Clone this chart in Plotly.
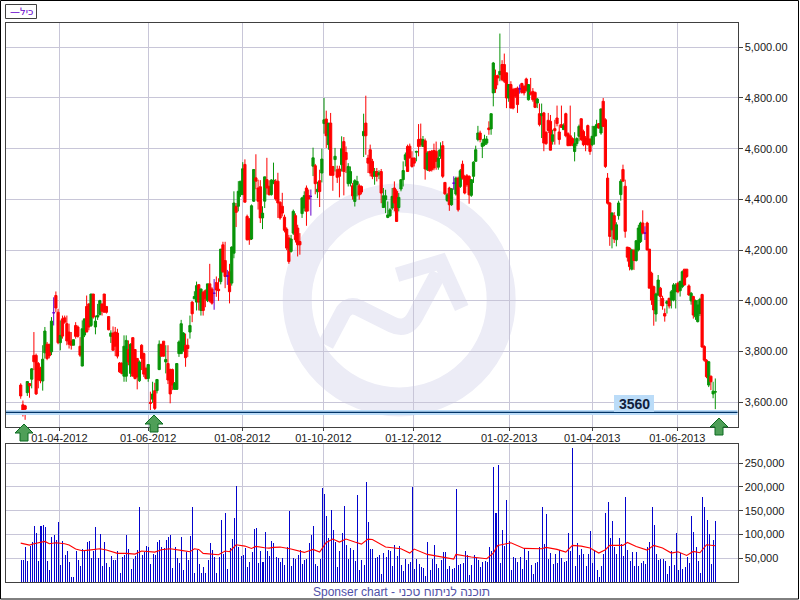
import plotly.graph_objects as go

price_open = [
3668,3590,3586,3638,3674,3691,3785,3785,3753,3733,
3684,3795,3829,3829,3799,3953,4021,3955,3835,3929,
3933,3910,3877,3842,3825,3903,3897,3821,3743,3865,
3978,3988,3903,4027,3897,3936,3946,3988,4027,3978,
3938,3860,3873,3877,3873,3755,3753,3703,3703,3808,
3714,3855,3808,3773,3685,3825,3792,3733,3694,3600,
3612,3646,3646,3729,3829,3841,3759,3753,3729,3729,
3651,3651,3792,3792,3805,3825,3825,3877,3995,4008,
3995,4064,3962,4034,4040,4001,4067,4047,4030,4072,
4046,4076,4221,4159,4098,4115,4070,4188,4373,4373,
4419,4419,4538,4333,4323,4244,4393,4485,4445,4450,
4327,4393,4478,4452,4419,4465,4472,4472,4389,4373,
4330,4283,4248,4195,4267,4336,4287,4234,4344,4366,
4445,4415,4412,4531,4533,4430,4474,4504,4699,4717,
4616,4701,4530,4557,4517,4520,4537,4628,4585,4462,
4464,4454,4392,4458,4454,4451,4651,4701,4563,4596,
4550,4491,4510,4497,4510,4368,4399,4329,4335,4366,
4445,4432,4368,4441,4478,4557,4609,4610,4563,4563,
4586,4636,4638,4609,4631,4517,4589,4590,4593,4590,
4527,4570,4612,4467,4396,4445,4379,4464,4421,4484,
4451,4539,4491,4493,4491,4416,4491,4550,4636,4662,
4609,4616,4622,4682,4678,4820,4888,4888,4892,4932,
4932,4899,4800,4853,4833,4836,4839,4836,4857,4846,
4875,4793,4822,4826,4822,4780,4738,4730,4741,4664,
4712,4708,4629,4679,4721,4666,4695,4675,4738,4659,
4651,4640,4589,4620,4649,4718,4668,4642,4691,4638,
4616,4649,4682,4699,4662,4787,4714,4484,4386,4280,
4336,4241,4336,4419,4518,4452,4212,4208,4125,4199,
4159,4201,4234,4307,4267,4307,4204,4109,4056,3948,
4023,4050,4010,3950,3990,4010,4003,4003,4036,4069,4040,
4056,4125,4125,4059,4000,4017,3937,3918,3950,4025,
3820,3766,3668,3703,3633,3640]
price_high = [
3675,3607,3590,3682,3676,3735,3877,3792,3759,3740,
3825,3897,3838,3829,3936,4014,4037,3969,3923,3942,
3942,3942,3910,3877,3847,3916,3903,3857,3923,3929,
4021,3990,4027,4027,3942,3988,4004,3988,4027,3978,
3938,3884,3899,3897,3890,3759,3759,3864,3864,3844,
3833,3855,3810,3773,3765,3829,3796,3740,3749,3642,
3681,3677,3690,3844,3829,3841,3825,3825,3733,3733,
3680,3755,3844,3925,3877,3871,3851,3942,3999,4038,
4076,4064,4047,4040,4045,4067,4146,4054,4086,4096,
4089,4204,4233,4233,4122,4146,4215,4432,4386,4472,
4472,4547,4558,4340,4327,4380,4518,4578,4478,4476,
4373,4489,4564,4475,4480,4545,4480,4505,4392,4426,
4340,4290,4260,4260,4360,4345,4300,4267,4410,4432,
4455,4439,4439,4604,4540,4470,4517,4600,4800,4750,
4701,4741,4530,4603,4533,4533,4649,4646,4609,4543,
4530,4465,4480,4493,4462,4455,4738,4809,4576,4616,
4560,4524,4524,4515,4520,4445,4438,4392,4366,4445,
4471,4440,4425,4478,4550,4585,4616,4620,4590,4565,
4592,4697,4699,4650,4640,4590,4592,4595,4620,4628,
4596,4625,4630,4467,4425,4450,4445,4491,4490,4490,
4520,4553,4497,4500,4495,4480,4550,4612,4690,4671,
4638,4655,4650,4708,4738,4942,4912,4892,5054,4949,
4975,4900,4855,4866,4840,4840,4845,4853,4860,4850,
4880,4855,4879,4839,4825,4800,4778,4778,4745,4670,
4741,4733,4675,4714,4770,4695,4770,4700,4742,4665,
4770,4645,4665,4645,4695,4720,4675,4650,4695,4640,
4690,4690,4714,4700,4757,4800,4720,4504,4390,4350,
4350,4310,4395,4480,4537,4478,4212,4212,4205,4205,
4240,4300,4312,4357,4294,4312,4204,4115,4060,4032,
4102,4055,4020,3970,4003,4012,4043,4070,4070,4075,4080,
4120,4125,4125,4065,4035,4020,4005,4004,4012,4028,
3825,3770,3762,3705,3681,3694]
price_low = [
3614,3544,3531,3625,3618,3655,3727,3629,3655,3675,
3646,3772,3766,3773,3786,3903,3955,3829,3805,3851,
3910,3825,3812,3808,3825,3851,3855,3779,3742,3857,
3877,3884,3897,3930,3868,3925,3942,3942,3955,3950,
3884,3834,3805,3782,3773,3716,3710,3681,3681,3746,
3700,3703,3690,3651,3680,3727,3700,3690,3681,3563,
3598,3563,3635,3727,3780,3780,3714,3672,3596,3648,
3649,3651,3779,3792,3799,3740,3779,3851,3916,4007,
3962,3962,3942,3942,3975,3995,3994,3985,3965,4016,
4000,4065,4110,4050,4063,3990,4060,4168,4291,4353,
4410,4419,4389,4238,4221,4240,4390,4440,4360,4307,
4283,4366,4419,4415,4415,4460,4395,4327,4320,4333,
4270,4200,4146,4190,4260,4230,4175,4182,4327,4353,
4296,4353,4336,4492,4420,4405,4370,4467,4659,4603,
4596,4495,4434,4510,4465,4408,4510,4416,4504,4451,
4451,4399,4372,4412,4399,4420,4567,4576,4504,4491,
4480,4458,4471,4480,4385,4366,4346,4326,4333,4359,
4353,4313,4353,4432,4451,4530,4510,4560,4525,4530,
4550,4570,4607,4609,4478,4512,4510,4510,4515,4517,
4517,4560,4484,4418,4390,4355,4375,4438,4415,4352,
4445,4478,4420,4450,4383,4410,4465,4550,4629,4625,
4563,4610,4615,4655,4655,4767,4820,4850,4866,4866,
4859,4760,4785,4760,4755,4800,4741,4817,4817,4810,
4825,4790,4810,4785,4760,4760,4688,4642,4590,4615,
4662,4594,4616,4616,4688,4616,4682,4675,4645,4610,
4612,4610,4550,4610,4629,4630,4610,4590,4612,4576,
4610,4616,4649,4678,4655,4688,4524,4380,4217,4207,
4228,4215,4320,4395,4470,4249,4155,4120,4120,4122,
4155,4195,4228,4262,4240,4199,4050,3984,3902,3918,
4020,3980,3965,3918,3950,3970,3970,3998,3970,4030,4017,
4050,4060,4090,4020,3985,3930,3925,3915,3940,3815,
3760,3695,3660,3648,3616,3573]
price_close = [
3625,3560,3573,3682,3665,3732,3760,3633,3688,3685,
3770,3881,3773,3783,3920,3953,3972,3835,3864,3861,
3916,3842,3829,3825,3847,3860,3860,3786,3890,3929,
3877,3897,4027,3936,3920,3942,4001,3959,3955,3955,
3886,3873,3805,3821,3782,3720,3714,3821,3844,3759,
3829,3703,3694,3700,3759,3773,3711,3694,3749,3596,
3633,3576,3690,3829,3782,3782,3769,3688,3633,3668,
3674,3753,3838,3910,3873,3776,3812,3903,3949,4017,
4060,3995,4047,3962,4008,4067,3999,3991,4030,4043,
4040,4204,4115,4096,4098,4036,4212,4386,4349,4432,
4472,4521,4389,4241,4241,4375,4518,4472,4393,4327,
4346,4489,4445,4419,4476,4476,4402,4386,4327,4346,
4278,4208,4155,4244,4353,4241,4221,4221,4406,4415,
4353,4402,4412,4564,4462,4440,4431,4559,4714,4651,
4701,4495,4495,4570,4487,4491,4600,4510,4557,4530,
4510,4414,4474,4471,4418,4429,4668,4651,4543,4504,
4491,4510,4491,4505,4425,4414,4414,4339,4359,4412,
4386,4313,4408,4478,4514,4576,4510,4565,4530,4543,
4589,4609,4616,4636,4520,4583,4513,4517,4524,4550,
4563,4596,4491,4422,4418,4379,4442,4464,4484,4359,
4513,4484,4425,4458,4418,4478,4547,4596,4662,4636,
4622,4638,4638,4675,4738,4938,4836,4879,4905,4872,
4866,4800,4853,4760,4760,4807,4774,4836,4822,4820,
4830,4853,4815,4793,4763,4796,4695,4738,4622,4620,
4672,4594,4655,4671,4699,4636,4684,4691,4651,4612,
4612,4620,4620,4640,4688,4636,4616,4616,4616,4589,
4649,4688,4695,4682,4757,4688,4530,4385,4254,4346,
4244,4300,4386,4472,4472,4274,4172,4135,4201,4159,
4237,4287,4307,4267,4267,4201,4050,4003,3964,4027,
4082,4017,3980,3940,3997,3980,4036,4063,4063,4036,4076,
4115,4063,4096,4023,4030,3944,4001,3984,4006,3818,
3766,3701,3760,3681,3644,3642]

volume_k = [
47,47,73,45,75,85,118,104,45,118,
120,115,45,26,95,99,89,127,35,87,
57,66,43,11,11,66,47,34,70,66,
85,87,51,66,116,51,101,34,85,41,
32,55,47,47,66,20,53,57,99,70,
28,49,55,68,158,57,64,76,74,38,
60,57,85,89,74,72,89,95,99,30,
74,51,41,95,26,64,47,97,158,20,
68,38,20,32,20,47,83,68,53,20,
53,131,60,146,28,72,91,135,202,74,
55,57,72,32,43,64,112,114,41,66,
43,106,66,55,
87,83,53,51,43,51,36,74,150,34,
51,49,57,68,38,47,49,83,99,118,
38,34,49,198,185,139,93,152,110,85,
32,66,104,160,78,49,72,68,45,183,
26,47,36,211,127,70,70,51,53,57,
17,62,53,68,66,34,78,55,76,36,
24,49,38,43,200,28,49,38,32,30,
13,85,26,49,78,38,30,47,64,64,
28,34,28,30,196,36,38,41,66,57,
15,36,57,51,47,32,43,45,43,74,
66,242,146,246,41,110,76,173,87,26,
53,51,43,53,28,72,47,66,36,17,
41,43,74,
158,80,143,49,62,38,60,41,68,51,
43,45,104,66,282,34,83,57,70,60,
34,60,108,41,68,26,11,34,60,146,
169,93,129,74,60,93,80,55,179,68,
45,64,34,64,34,41,45,38,74,85,
158,120,60,47,49,49,45,17,34,66,
36,104,26,62,28,32,53,41,139,106,
74,45,20,179,158,131,101,38,89,129]
volume = [v * 1000 for v in volume_k]

volume_avg_index = [0,2,4,6,9,11,13,16,20,22,25,28,31,36,39,44,48,52,55,59,61,64,68,73,77,79,81,83,88,90,93,95,98,102,105,107,111,113,
115,118,123,129,133,136,139,142,145,148,152,155,158,160,166,173,177,179,185,191,197,198,205,212,215,217,220,223,229,232,
237,239,244,248,251,255,259,263,266,268,274,276,280,285,288,292,296,299,303,306,309,312,316]
volume_avg = [81900,79800,77700,80500,82600,85400,80500,82600,80500,77700,69300,65800,67200,70000,67200,60200,60200,58800,65100,64400,63000,67900,70000,66500,63700,70000,68600,60200,58100,57400,65100,63700,78400,75600,70700,74900,72100,71400,
72800,73500,69300,62300,68600,63000,83300,90300,84000,90300,84000,79800,90300,89600,73500,70000,60900,69300,58100,53900,48300,58100,52500,49000,60900,77000,80500,82600,70700,70000,
70000,72800,68600,63000,77000,75600,71400,60900,67900,77000,77000,83300,74900,67200,77000,71400,60900,63700,56000,64400,61600,78400,76300]

date_tick_index = [17.6,58,100.8,137.7,178.6,222.2,260,298.7]
date_tick_labels = ["01-04-2012","01-06-2012","01-08-2012","01-10-2012","01-12-2012","01-02-2013","01-04-2013","01-06-2013"]
price_ticks = [3600,3800,4000,4200,4400,4600,4800,5000]
volume_ticks = [50000,100000,150000,200000,250000]
support_level = 3560

n = len(price_open)
if not (n == len(price_high) == len(price_low) == len(price_close) == len(volume)):
    raise SystemExit(f"lengths {n} {len(price_high)} {len(price_low)} {len(price_close)} {len(volume)}")
idx = list(range(n))
moves = [i for i in idx if price_open[i] != price_close[i]]
dojis = [i for i in idx if price_open[i] == price_close[i]]

GREEN, RED, PURPLE, BLUE = "#089408", "#FF0000", "#6600CC", "rgba(0,0,204,0.99)"
GRID = "#C8C6D8"; AXIS = "#404040"; MARK = "#ECECF6"
FONT = "Liberation Sans"

def px(x): return x / 800
def py(y): return 1 - y / 600

def candles(rows, up, down):
    return go.Candlestick(
        x=rows,
        open=[price_open[i] for i in rows], high=[price_high[i] for i in rows],
        low=[price_low[i] for i in rows], close=[price_close[i] for i in rows],
        increasing=dict(line=dict(color=up, width=1), fillcolor=up),
        decreasing=dict(line=dict(color=down, width=1), fillcolor=down),
        whiskerwidth=0, xaxis="x", yaxis="y", showlegend=False, hoverinfo="skip")

fig = go.Figure()
fig.add_trace(candles(moves, GREEN, RED))
fig.add_trace(candles(dojis, PURPLE, PURPLE))
fig.add_trace(go.Scatter(x=[-7, 327], y=[support_level, support_level], mode="lines", xaxis="x", yaxis="y",
                         line=dict(color="#BBDCF8", width=5), showlegend=False, hoverinfo="skip"))
fig.add_trace(go.Scatter(x=[-7, 327], y=[support_level, support_level], mode="lines", xaxis="x", yaxis="y",
                         line=dict(color="#003366", width=1.2), showlegend=False, hoverinfo="skip"))
fig.add_trace(go.Bar(x=idx, y=volume, width=0.46, marker=dict(color=BLUE, line=dict(width=0)),
                     xaxis="x2", yaxis="y2", showlegend=False, hoverinfo="skip"))
fig.add_trace(go.Scatter(x=volume_avg_index, y=volume_avg, mode="lines", line=dict(color="#FF0000", width=1.1),
                         xaxis="x2", yaxis="y2", showlegend=False, hoverinfo="skip"))

def up_arrow(cx, top):
    neck, bottom = top + 9, top + 17
    d = (f"M {px(cx)} {py(top)} L {px(cx+9)} {py(neck)} L {px(cx+4)} {py(neck)} L {px(cx+4)} {py(bottom)} "
         f"L {px(cx-4)} {py(bottom)} L {px(cx-4)} {py(neck)} L {px(cx-9)} {py(neck)} Z")
    return dict(type="path", xref="paper", yref="paper", path=d, fillcolor="#4F9F58",
                line=dict(color="#0B6B20", width=1), layer="above")

def path(points):
    return " ".join(f"{c} {px(p[0])} {py(p[1])}" if len(p) == 2 else
                    f"{c} {px(p[0])} {py(p[1])} {px(p[2])} {py(p[3])}" for c, p in points)

shapes = [
    dict(type="circle", xref="paper", yref="paper", x0=px(399.2-102), x1=px(399.2+102), y0=py(300+102), y1=py(300-102),
         line=dict(color=MARK, width=29), fillcolor="rgba(0,0,0,0)", layer="below"),
    dict(type="path", xref="paper", yref="paper", layer="below", line=dict(color=MARK, width=16.5),
         path=path([("M", (325.7,345)), ("L", (343.3,311.7)), ("Q", (350,303.3,358.3,307.7)), ("L", (391.7,324.3)),
                    ("Q", (406.7,331.7,415,316.7)), ("L", (438.3,273.3))])),
    dict(type="path", xref="paper", yref="paper", layer="below", line=dict(color=MARK, width=14.7),
         path=path([("M", (397,274.7)), ("L", (440.7,261.7)), ("L", (461.7,308))])),
    dict(type="rect", xref="paper", yref="paper", x0=px(0.5), x1=px(798.5), y0=py(599), y1=py(0.5),
         line=dict(color="#000000", width=1), fillcolor="rgba(0,0,0,0)", layer="above"),
    dict(type="rect", xref="paper", yref="paper", x0=px(5.5), x1=px(36.5), y0=py(18.5), y1=py(4.5),
         line=dict(color=AXIS, width=1), fillcolor="#FFFFFF", layer="above"),
    dict(type="rect", xref="paper", yref="paper", x0=px(614), x1=px(654), y0=py(412), y1=py(395),
         line=dict(width=0), fillcolor="#BBDCF8", layer="above"),
    up_arrow(24, 424), up_arrow(154, 415), up_arrow(719, 418),
]

def label(text, x, y, font):
    return dict(text=text, xref="paper", yref="paper", x=px(x), y=py(y), showarrow=False,
                xanchor="center", yanchor="middle", borderpad=0, font=font)

annotations = [
    label("—כיל", 21, 11.5, dict(family="DejaVu Sans", size=10, color=PURPLE)),
    label("3560", 634.5, 404, dict(family=FONT, size=14, color="#10203A", weight="bold")),
    label("Sponser chart - תוכנה לניתוח טכני", 402, 591.5, dict(family=FONT, size=12, color="#5050A8")),
]

x_common = dict(range=[-6.92, 326.1], domain=[px(5.5), px(737.5)], tickmode="array", tickvals=date_tick_index,
                showgrid=True, gridcolor=GRID, gridwidth=1, showline=True, linecolor=AXIS, linewidth=1, mirror=True,
                zeroline=False, ticks="outside", ticklen=3, tickcolor=AXIS, ticklabelstandoff=-2,
                tickfont=dict(family=FONT, size=11, color="#202020"), rangeslider=dict(visible=False))
y_common = dict(side="right", showgrid=True, gridcolor=GRID, gridwidth=1, showline=True, linecolor=AXIS, linewidth=1,
                mirror=True, zeroline=False, ticks="outside", ticklen=4, tickcolor=AXIS, tickmode="array",
                tickfont=dict(family=FONT, size=11, color="#202020"))

fig.update_layout(
    width=800, height=600, margin=dict(l=0, r=0, t=0, b=0, autoexpand=False),
    paper_bgcolor="#FFFFFF", plot_bgcolor="#FFFFFF", bargap=0, barmode="overlay",
    boxgap=0, boxgroupgap=0, shapes=shapes, annotations=annotations, showlegend=False,
    xaxis=dict(x_common, ticktext=date_tick_labels, anchor="y"),
    xaxis2=dict(x_common, ticktext=["" for _ in date_tick_labels], anchor="y2", ticklen=0),
    yaxis=dict(y_common, domain=[py(427), py(22.5)], range=[3502.6, 5097.6], tickvals=price_ticks,
               tickformat=",.2f", anchor="x"),
    yaxis2=dict(y_common, domain=[py(582), py(444)], range=[0, 290500], tickvals=volume_ticks,
                tickformat=",d", anchor="x2"),
)

fig.write_html("out.html", config=dict(displayModeBar=False),
               post_script="document.body.style.margin='0';document.body.style.overflow='hidden';")
